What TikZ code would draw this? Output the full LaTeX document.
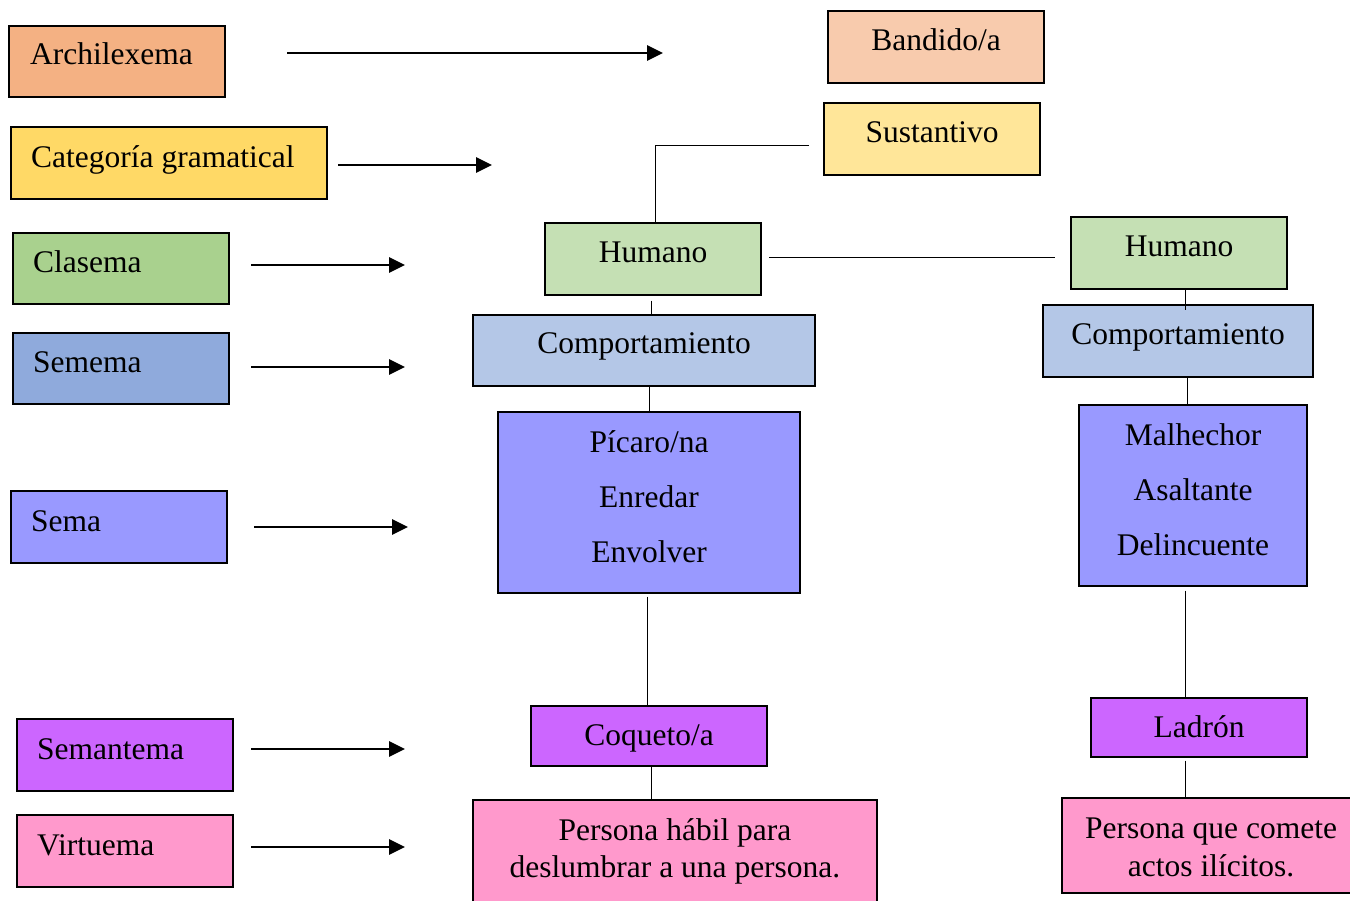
\documentclass[tikz,border=0pt]{standalone}
\usepackage{fontspec}
\setmainfont{Liberation Serif}
\usetikzlibrary{arrows.meta,calc}

\definecolor{cArch}{HTML}{F4B183}
\definecolor{cCat}{HTML}{FFD966}
\definecolor{cClas}{HTML}{A9D18E}
\definecolor{cSemema}{HTML}{8FAADC}
\definecolor{cSema}{HTML}{9999FF}
\definecolor{cSemant}{HTML}{CC66FF}
\definecolor{cVirt}{HTML}{FF99CC}
\definecolor{cBand}{HTML}{F8CBAD}
\definecolor{cSust}{HTML}{FFE699}
\definecolor{cHum}{HTML}{C5E0B4}
\definecolor{cComp}{HTML}{B4C7E7}

\tikzset{
  box/.style={draw=black, line width=1.3pt, rectangle, inner sep=0pt},
  txt/.style={inner sep=0pt, font=\fontsize{31.5}{37}\selectfont},
  link/.style={draw=black, line width=1pt},
  pointer/.style={draw=black, line width=2.7pt, -{Triangle[length=16pt,width=15pt]}}
}

\begin{document}
\begin{tikzpicture}[x=1pt,y=-1pt]
\useasboundingbox (0,0) rectangle (1350,901);
\clip (0,0) rectangle (1350,901);
\fill[white] (0,0) rectangle (1350,901);

% ---- level labels (left column) ----
\node[box, fill=cArch,   minimum width=216, minimum height=71] (arch) at (117,61.5) {};
\node[box, fill=cCat,    minimum width=316, minimum height=72] (cat)  at (169,163) {};
\node[box, fill=cClas,   minimum width=216, minimum height=71] (clas) at (121,268.5) {};
\node[box, fill=cSemema, minimum width=216, minimum height=71] (semema) at (121,368.5) {};
\node[box, fill=cSema,   minimum width=216, minimum height=72] (sema) at (119,527) {};
\node[box, fill=cSemant, minimum width=216, minimum height=72] (semant) at (125,755) {};
\node[box, fill=cVirt,   minimum width=216, minimum height=72] (virt) at (125,851) {};

\node[txt, anchor=base west] (arch-t)   at (30,65) {Archilexema};
\node[txt, anchor=base west] (cat-t)    at (31,168) {Categoría gramatical};
\node[txt, anchor=base west] (clas-t)   at (33,273) {Clasema};
\node[txt, anchor=base west] (semema-t) at (33,373) {Semema};
\node[txt, anchor=base west] (sema-t)   at (31,531) {Sema};
\node[txt, anchor=base west] (semant-t) at (37,759) {Semantema};
\node[txt, anchor=base west] (virt-t)   at (37,855) {Virtuema};

% ---- pointers ----
\coordinate (p1a) at (287,53);  \coordinate (p1b) at (663,53);
\coordinate (p2a) at (338,165); \coordinate (p2b) at (492,165);
\coordinate (p3a) at (251,265); \coordinate (p3b) at (405,265);
\coordinate (p4a) at (251,367); \coordinate (p4b) at (405,367);
\coordinate (p5a) at (254,527); \coordinate (p5b) at (408,527);
\coordinate (p6a) at (251,749); \coordinate (p6b) at (405,749);
\coordinate (p7a) at (251,847); \coordinate (p7b) at (405,847);
\foreach \i in {1,...,7} { \draw[pointer] (p\i a) -- (p\i b); }

% ---- tree boxes ----
\node[box, fill=cBand, minimum width=216, minimum height=72] (band) at (936,47) {};
\node[box, fill=cSust, minimum width=216, minimum height=72] (sust) at (932,139) {};
\node[box, fill=cHum,  minimum width=216, minimum height=72] (hum1) at (653,259) {};
\node[box, fill=cHum,  minimum width=216, minimum height=72] (hum2) at (1179,253) {};
\node[box, fill=cComp, minimum width=342, minimum height=71] (comp1) at (644,350.5) {};
\node[box, fill=cComp, minimum width=270, minimum height=72] (comp2) at (1178,341) {};
\node[box, fill=cSema, minimum width=302, minimum height=181] (sema1) at (649,502.5) {};
\node[box, fill=cSema, minimum width=228, minimum height=181] (sema2) at (1193,495.5) {};
\node[box, fill=cSemant, minimum width=236, minimum height=60] (coq) at (649,736) {};
\node[box, fill=cSemant, minimum width=216, minimum height=59] (lad) at (1199,727.5) {};
\node[box, fill=cVirt, minimum width=404, minimum height=112] (pers1) at (675,856) {};
\node[box, fill=cVirt, minimum width=290, minimum height=95] (pers2) at (1207,845.5) {};

% ---- tree texts ----
\node[txt, anchor=base] (band-t) at (936,51) {Bandido/a};
\node[txt, anchor=base] (sust-t) at (932,143) {Sustantivo};
\node[txt, anchor=base] (hum1-t) at (653,263) {Humano};
\node[txt, anchor=base] (hum2-t) at (1179,257) {Humano};
\node[txt, anchor=base] (comp1-t) at (644,354) {Comportamiento};
\node[txt, anchor=base] (comp2-t) at (1178,345) {Comportamiento};
\node[txt, anchor=base] (s1a) at (649,452) {Pícaro/na};
\node[txt, anchor=base] (s1b) at (649,507) {Enredar};
\node[txt, anchor=base] (s1c) at (649,562) {Envolver};
\node[txt, anchor=base] (s2a) at (1193,445) {Malhechor};
\node[txt, anchor=base] (s2b) at (1193,500) {Asaltante};
\node[txt, anchor=base] (s2c) at (1193,555) {Delincuente};
\node[txt, anchor=base] (coq-t) at (649,745) {Coqueto/a};
\node[txt, anchor=base] (lad-t) at (1199,737) {Ladrón};
\node[txt, anchor=base] (pers1a) at (675,840) {Persona hábil para};
\node[txt, anchor=base] (pers1b) at (675,877) {deslumbrar a una persona.};
\node[txt, anchor=base] (pers2a) at (1211,838) {Persona que comete};
\node[txt, anchor=base] (pers2b) at (1211,876) {actos ilícitos.};

% ---- connectors ----
\coordinate (sustEnd) at (809,146);
\draw[link] (sustEnd) -| ($(hum1.north)+(2,0)$);
\coordinate (humA) at (769,258);
\coordinate (humB) at (1055,258);
\draw[link] (humA) -- (humB);
\draw[link] ($(hum1.south)+(-2,5)$) -- ($(comp1.north)+(7,2)$);
\draw[link] ($(hum2.south)+(6,0)$) -- ($(comp2.north)+(7,6)$);
\draw[link] ($(comp1.south)+(5,0)$) -- ($(sema1.north)+(0,0)$);
\draw[link] ($(comp2.south)+(9,0)$) -- ($(sema2.north)+(-6,0)$);
\draw[link] ($(sema1.south)+(-2,3)$) -- ($(coq.north)+(-2,0)$);
\draw[link] ($(sema2.south)+(-8,4)$) -- ($(lad.north)+(-14,0)$);
\draw[link] ($(coq.south)+(2,0)$) -- ($(pers1.north)+(-24,0)$);
\draw[link] ($(lad.south)+(-14,3)$) -- ($(pers2.north)+(-22,0)$);
\end{tikzpicture}
\end{document}
